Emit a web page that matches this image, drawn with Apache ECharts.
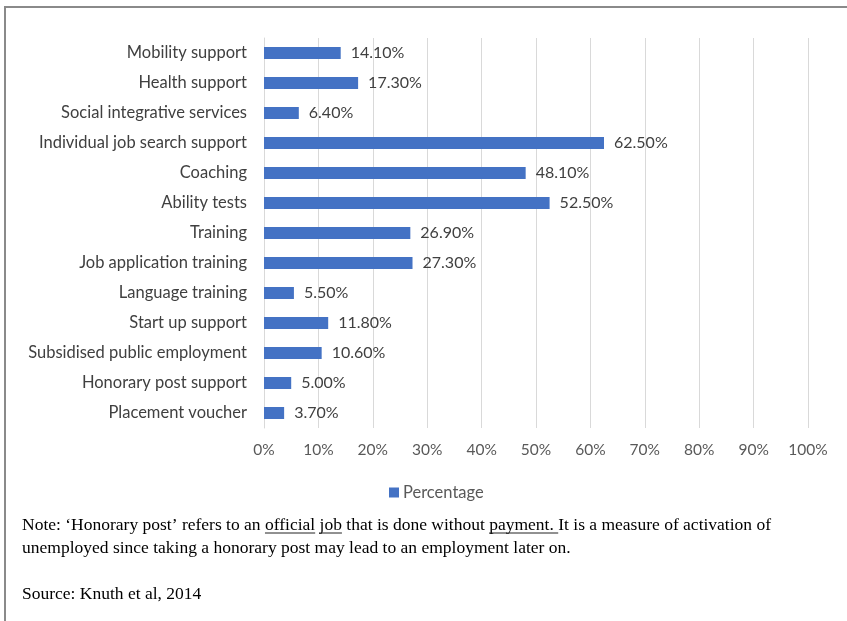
<!DOCTYPE html>
<html>
<head>
<meta charset="utf-8">
<script src="https://cdn.jsdelivr.net/npm/echarts@6/dist/echarts.min.js"></script>
<style>
  html, body { margin: 0; padding: 0; background: #fff; }
  #chart { width: 847px; height: 621px; }
</style>
</head>
<body>
<div id="chart"></div>
<script>
// Activation measures, top to bottom
const categories = [
  'Mobility support',
  'Health support',
  'Social integrative services',
  'Individual job search support',
  'Coaching',
  'Ability tests',
  'Training',
  'Job application training',
  'Language training',
  'Start up support',
  'Subsidised public employment',
  'Honorary post support',
  'Placement voucher'
];
const percentages = [14.1, 17.3, 6.4, 62.5, 48.1, 52.5, 26.9, 27.3, 5.5, 11.8, 10.6, 5.0, 3.7];
const seriesName = 'Percentage';

// Footnote pieces; underlined flag marks the words drawn with an underline
const noteLine1 = [
  { t: 'Note: \u2018Honorary post\u2019 refers to an ', u: false },
  { t: 'official', u: true },
  { t: ' ', u: false },
  { t: 'job', u: true },
  { t: ' that is done without ', u: false },
  { t: 'payment. ', u: true },
  { t: 'It is a measure of activation of', u: false }
];
const noteLine2 = 'unemployed since taking a honorary post may lead to an employment later on.';
const sourceText = 'Source: Knuth et al, 2014';

const labelFont = 'Lato, "Open Sans", sans-serif';
const noteFontFamily = '"Liberation Serif", "Times New Roman", serif';
const noteFontSize = 17.5;
const noteFont = noteFontSize + 'px ' + noteFontFamily;

const chart = echarts.init(document.getElementById('chart'), null, { renderer: 'canvas' });

// measure text for placing footnote segments and underlines
const measureCtx = document.createElement('canvas').getContext('2d');
measureCtx.font = noteFont;

const graphics = [];
// frame
graphics.push({
  type: 'polyline', silent: true,
  shape: { points: [[5, 621], [5, 7], [847, 7]] },
  style: { stroke: '#8a8a8a', lineWidth: 2, fill: null }
});

function noteText(str, left, cy) {
  return {
    type: 'text', x: left, y: cy, silent: true,
    style: { text: str, font: noteFont, fill: '#000', textVerticalAlign: 'middle', textAlign: 'left' }
  };
}

let x = 22;
const y1 = 525;
noteLine1.forEach(seg => {
  const w = measureCtx.measureText(seg.t).width;
  graphics.push(noteText(seg.t, x, y1));
  if (seg.u) {
    graphics.push({
      type: 'line', silent: true,
      shape: { x1: x, y1: y1 + 8, x2: x + w, y2: y1 + 8 },
      style: { stroke: '#222', lineWidth: 1 }
    });
  }
  x += w;
});
graphics.push(noteText(noteLine2, 22, 548));
graphics.push(noteText(sourceText, 22, 594));

chart.setOption({
  animation: false,
  backgroundColor: '#ffffff',
  grid: { left: 264, right: 39, top: 38, bottom: 193, containLabel: false },
  legend: {
    data: [seriesName],
    top: 479,
    left: 384,
    itemWidth: 10, itemHeight: 10, itemGap: 4,
    icon: 'rect',
    textStyle: { fontFamily: labelFont, fontSize: 16.5, color: '#595959', padding: [0, 0, 0, -1] }
  },
  xAxis: {
    type: 'value',
    min: 0, max: 100, interval: 10,
    axisLabel: {
      formatter: '{value}%', fontFamily: labelFont, fontSize: 15.5, color: '#595959', margin: 14
    },
    axisLine: { show: false },
    axisTick: { show: false },
    splitLine: { show: true, lineStyle: { color: '#d9d9d9', width: 1 } }
  },
  yAxis: {
    type: 'category',
    inverse: true,
    data: categories,
    axisLabel: { fontFamily: labelFont, fontSize: 16.5, color: '#404040', margin: 17 },
    axisLine: { show: true, lineStyle: { color: '#d9d9d9', width: 1 } },
    axisTick: { show: false }
  },
  series: [{
    name: seriesName,
    type: 'bar',
    data: percentages,
    barWidth: 12,
    itemStyle: { color: '#4472C4' },
    label: {
      show: true, position: 'right', distance: 10,
      formatter: p => p.value.toFixed(2) + '%',
      fontFamily: labelFont, fontSize: 16, color: '#404040'
    }
  }],
  graphic: graphics
});
</script>
</body>
</html>
